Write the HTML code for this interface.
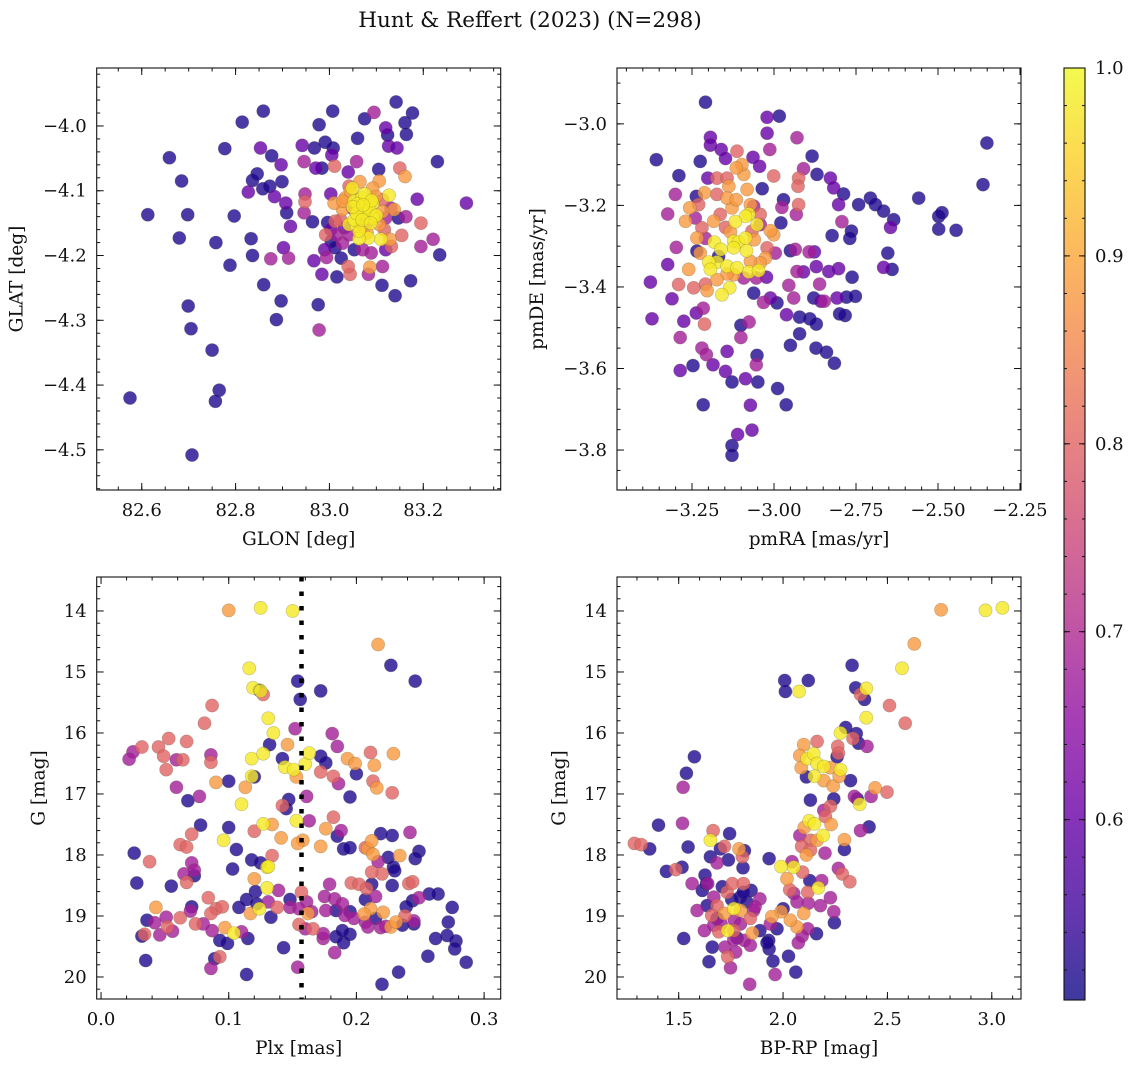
<!DOCTYPE html>
<html><head><meta charset="utf-8"><style>
html,body{margin:0;padding:0;background:#fff}
svg text{font-family:"DejaVu Serif","Liberation Serif",serif;fill:#111}
</style></head><body>
<svg id="fig" width="1136" height="1067" viewBox="0 0 1136 1067" xmlns="http://www.w3.org/2000/svg">
<text x="530" y="27" font-size="21.5" text-anchor="middle">Hunt &amp; Reffert (2023) (N=298)</text>
</svg>
<script>
// ---- Panel 1: GLON / GLAT ----
const tlX=[82.575,82.707,82.750,82.765,82.757,82.699,82.705,82.613,82.698,82.680,82.659,82.685,82.777,82.814,82.859,82.797,82.758,82.788,82.833,82.836,82.860,82.887,82.897,82.976,82.978,82.875,82.913,82.902,82.917,82.907,82.909,82.883,82.827,82.836,82.846,82.858,82.873,82.899,82.897,82.877,82.853,82.942,82.968,82.991,83.008,83.005,82.978,83.007,83.075,83.095,83.142,83.177,83.161,83.164,83.120,83.124,83.126,83.144,83.060,83.058,83.011,82.971,82.984,82.946,83.040,83.105,83.150,83.161,83.230,83.292,83.187,82.948,82.948,82.946,82.964,82.996,83.003,82.967,82.984,83.016,83.025,83.044,83.040,83.083,83.086,83.113,83.112,83.140,83.173,83.235,83.221,83.195,83.154,83.195,83.163,83.147,82.994,82.990,82.992,83.004,83.012,83.028,83.053,83.071,83.089,83.120,83.132,83.129,83.110,83.083,83.063,83.063,83.042,83.032,83.024,83.012,83.003,83.015,83.042,83.078,83.106,83.117,83.120,83.131,83.138,83.127,83.106,83.092,83.065,83.049,83.042,83.034,83.053,83.069,83.078,83.092,83.099,83.113,83.049,83.063,83.081,83.092,83.071,83.053,83.028,83.010,83.029,83.113,83.071,83.060,83.075,83.085,83.058,83.070,83.090,83.065,83.080,83.050,83.100,83.045,83.072,83.088];
const tlY=[-4.420,-4.508,-4.346,-4.408,-4.425,-4.278,-4.313,-4.137,-4.137,-4.173,-4.049,-4.085,-4.035,-3.994,-3.977,-4.139,-4.180,-4.215,-4.174,-4.200,-4.245,-4.299,-4.270,-4.276,-4.315,-4.205,-4.204,-4.188,-4.155,-4.119,-4.134,-4.109,-4.102,-4.084,-4.074,-4.097,-4.093,-4.086,-4.060,-4.046,-4.034,-4.030,-4.034,-4.025,-4.034,-4.045,-3.998,-3.977,-3.989,-3.979,-3.963,-3.980,-3.995,-4.013,-4.003,-4.014,-4.031,-4.034,-4.019,-4.055,-4.062,-4.065,-4.065,-4.055,-4.071,-4.067,-4.065,-4.078,-4.055,-4.119,-4.113,-4.105,-4.117,-4.134,-4.148,-4.149,-4.105,-4.208,-4.229,-4.233,-4.204,-4.229,-4.217,-4.229,-4.218,-4.217,-4.246,-4.262,-4.239,-4.199,-4.175,-4.186,-4.169,-4.150,-4.140,-4.142,-4.203,-4.191,-4.168,-4.178,-4.188,-4.181,-4.191,-4.191,-4.196,-4.191,-4.186,-4.175,-4.175,-4.173,-4.174,-4.162,-4.152,-4.157,-4.145,-4.147,-4.160,-4.168,-4.168,-4.152,-4.152,-4.160,-4.142,-4.127,-4.129,-4.107,-4.085,-4.096,-4.086,-4.096,-4.093,-4.111,-4.116,-4.111,-4.124,-4.119,-4.109,-4.114,-4.127,-4.132,-4.133,-4.142,-4.142,-4.145,-4.129,-4.119,-4.116,-4.132,-4.152,-4.120,-4.105,-4.130,-4.135,-4.145,-4.115,-4.158,-4.165,-4.125,-4.138,-4.100,-4.122,-4.150];
const tlP=[.52,.52,.52,.52,.52,.52,.52,.52,.52,.52,.52,.52,.52,.52,.52,.52,.52,.52,.52,.52,.52,.52,.52,.52,.68,.68,.68,.6,.6,.6,.52,.6,.6,.52,.52,.52,.52,.52,.6,.52,.6,.6,.52,.52,.52,.6,.52,.52,.52,.68,.52,.52,.52,.52,.6,.52,.6,.6,.52,.68,.8,.6,.52,.68,.6,.52,.8,.88,.52,.6,.6,.68,.8,.68,.52,.52,.6,.6,.6,.52,.52,.8,.8,.68,.88,.68,.52,.52,.52,.52,.68,.68,.8,.8,.68,.52,.68,.6,.8,.52,.52,.68,.52,.68,.68,.6,.8,.88,.98,.98,.98,.98,.98,.6,.8,.8,.6,.68,.68,.8,.88,.8,.68,.68,.88,.98,.88,.88,.88,.98,.8,.88,.98,.98,.98,.98,.88,.8,.68,.98,.98,.98,.98,.98,.88,.88,.88,.88,.68,.98,.98,.98,.98,.98,.98,.95,.9,.98,.98,.9,.98,.98,.98];

// ---- Panel 2: pmRA / pmDE ----
const trX=[-3.209,-3.359,-3.290,-3.194,-3.194,-3.161,-3.225,-3.202,-3.301,-3.324,-3.237,-3.298,-3.324,-3.377,-3.372,-3.311,-3.286,-3.286,-3.247,-3.275,-3.237,-3.216,-3.212,-3.220,-3.206,-3.186,-3.143,-3.148,-3.128,-3.101,-3.076,-3.101,-3.087,-3.052,-3.054,-3.049,-2.989,-2.963,-3.072,-3.216,-3.111,-3.067,-3.128,-3.128,-3.021,-2.984,-3.021,-2.930,-3.013,-2.884,-2.869,-2.910,-2.925,-2.927,-2.925,-2.976,-2.971,-2.932,-2.979,-3.036,-3.044,-3.064,-3.113,-3.148,-2.828,-2.818,-2.788,-2.803,-2.742,-2.706,-2.691,-2.666,-2.635,-2.645,-2.559,-2.498,-2.488,-2.498,-2.445,-2.351,-2.363,-2.793,-2.823,-2.764,-2.769,-2.653,-2.666,-2.640,-2.762,-2.803,-2.833,-2.871,-2.877,-2.893,-2.935,-2.950,-2.930,-2.910,-2.955,-2.940,-2.991,-3.032,-3.062,-3.011,-2.962,-2.922,-2.891,-2.871,-2.922,-2.950,-2.872,-2.840,-2.816,-2.879,-2.857,-2.847,-2.861,-2.808,-2.779,-2.752,-2.783,-2.800,-3.023,-3.054,-2.996,-3.001,-3.011,-3.052,-3.042,-3.062,-3.077,-3.087,-3.118,-3.133,-3.182,-3.123,-3.108,-3.087,-3.060,-3.084,-3.123,-3.162,-3.174,-3.199,-3.194,-3.143,-3.113,-3.077,-3.047,-3.026,-3.042,-3.092,-3.123,-3.143,-3.174,-3.204,-3.135,-3.159,-3.209,-3.291,-3.260,-3.235,-3.270,-3.257,-3.230,-3.212,-3.174,-3.138,-3.092,-3.098,-3.082,-3.128,-3.164,-3.184,-3.220,-3.240,-3.148,-3.209,-3.072,-3.067,-3.174,-3.143,-3.115,-3.143,-3.115,-3.072,-3.042,-3.021,-3.225,-3.169,-3.235,-3.245,-3.001,-2.988];
const trY=[-2.947,-3.088,-3.127,-3.033,-3.052,-3.063,-3.092,-3.133,-3.173,-3.221,-3.178,-3.303,-3.345,-3.388,-3.478,-3.429,-3.524,-3.605,-3.593,-3.484,-3.464,-3.452,-3.491,-3.550,-3.566,-3.591,-3.558,-3.607,-3.633,-3.494,-3.486,-3.524,-3.625,-3.568,-3.591,-3.633,-3.649,-3.689,-3.690,-3.689,-3.762,-3.751,-3.789,-3.813,-2.984,-2.981,-3.023,-3.034,-3.063,-3.079,-3.124,-3.110,-3.133,-3.153,-3.198,-3.205,-3.186,-3.222,-3.243,-3.159,-3.104,-3.082,-3.067,-3.085,-3.133,-3.157,-3.172,-3.198,-3.198,-3.182,-3.198,-3.214,-3.235,-3.254,-3.182,-3.227,-3.218,-3.258,-3.261,-3.047,-3.149,-3.240,-3.274,-3.263,-3.281,-3.317,-3.352,-3.357,-3.376,-3.355,-3.362,-3.350,-3.314,-3.314,-3.308,-3.311,-3.362,-3.363,-3.396,-3.427,-3.439,-3.438,-3.415,-3.427,-3.468,-3.474,-3.478,-3.491,-3.515,-3.543,-3.550,-3.560,-3.587,-3.427,-3.435,-3.435,-3.393,-3.427,-3.425,-3.423,-3.470,-3.466,-3.376,-3.378,-3.317,-3.272,-3.262,-3.247,-3.222,-3.202,-3.221,-3.227,-3.240,-3.265,-3.290,-3.288,-3.290,-3.280,-3.284,-3.311,-3.304,-3.308,-3.339,-3.339,-3.357,-3.349,-3.353,-3.363,-3.360,-3.329,-3.341,-3.378,-3.370,-3.368,-3.382,-3.409,-3.402,-3.419,-3.393,-3.394,-3.357,-3.280,-3.239,-3.206,-3.198,-3.169,-3.173,-3.153,-3.124,-3.100,-3.161,-3.206,-3.222,-3.239,-3.255,-3.231,-3.254,-3.281,-3.337,-3.263,-3.133,-3.133,-3.108,-3.182,-3.186,-3.198,-3.247,-3.304,-3.317,-3.325,-3.312,-3.402,-3.128,-3.128];
const trP=[.52,.52,.52,.6,.6,.6,.52,.6,.68,.68,.52,.68,.6,.6,.6,.6,.68,.6,.52,.6,.6,.68,.8,.68,.68,.6,.6,.6,.52,.52,.68,.68,.6,.52,.68,.52,.52,.52,.6,.52,.6,.6,.52,.52,.6,.52,.6,.68,.68,.52,.52,.68,.8,.8,.8,.68,.52,.68,.52,.52,.6,.6,.8,.6,.6,.6,.52,.6,.52,.52,.52,.52,.52,.6,.52,.52,.52,.52,.52,.52,.52,.68,.52,.52,.52,.52,.6,.52,.52,.6,.6,.6,.6,.68,.68,.52,.68,.6,.68,.68,.52,.68,.52,.6,.6,.52,.52,.52,.52,.52,.52,.52,.52,.52,.6,.68,.68,.6,.52,.52,.52,.52,.6,.68,.68,.88,.88,.98,.8,.68,.98,.98,.98,.88,.98,.98,.98,.98,.88,.98,.98,.98,.98,.98,.98,.98,.98,.98,.98,.88,.88,.68,.88,.88,.88,.88,.98,.98,.8,.8,.88,.88,.88,.88,.8,.88,.8,.88,.88,.88,.88,.88,.8,.88,.8,.68,.8,.68,.88,.8,.8,.8,.88,.88,.88,.88,.68,.8,.88,.52,.52,.8,.8];

// ---- Panel 3: Plx / G ----
const blX=[0.100,0.125,0.150,0.217,0.227,0.246,0.116,0.119,0.124,0.127,0.125,0.154,0.172,0.156,0.087,0.081,0.131,0.135,0.152,0.181,0.185,0.032,0.053,0.067,0.045,0.025,0.022,0.049,0.059,0.064,0.086,0.086,0.051,0.059,0.068,0.077,0.090,0.100,0.113,0.120,0.118,0.118,0.127,0.132,0.146,0.142,0.144,0.151,0.153,0.160,0.163,0.172,0.176,0.172,0.182,0.186,0.193,0.199,0.200,0.211,0.214,0.229,0.213,0.216,0.228,0.195,0.161,0.147,0.142,0.145,0.110,0.078,0.100,0.071,0.062,0.067,0.026,0.038,0.106,0.096,0.120,0.127,0.134,0.141,0.153,0.163,0.158,0.154,0.176,0.182,0.188,0.185,0.172,0.190,0.195,0.207,0.209,0.212,0.213,0.219,0.228,0.242,0.234,0.225,0.217,0.249,0.246,0.134,0.118,0.125,0.130,0.131,0.103,0.071,0.073,0.065,0.073,0.067,0.055,0.028,0.120,0.121,0.130,0.139,0.157,0.179,0.196,0.202,0.212,0.208,0.220,0.212,0.229,0.230,0.228,0.241,0.244,0.257,0.264,0.249,0.244,0.084,0.114,0.148,0.161,0.175,0.183,0.189,0.207,0.215,0.211,0.206,0.221,0.239,0.238,0.275,0.043,0.071,0.070,0.090,0.095,0.108,0.117,0.124,0.122,0.131,0.138,0.148,0.155,0.162,0.165,0.176,0.184,0.191,0.195,0.198,0.207,0.209,0.215,0.219,0.223,0.227,0.231,0.236,0.245,0.245,0.272,0.271,0.262,0.278,0.277,0.256,0.286,0.233,0.220,0.183,0.174,0.184,0.190,0.195,0.189,0.174,0.166,0.160,0.155,0.154,0.143,0.133,0.115,0.110,0.104,0.097,0.099,0.093,0.087,0.080,0.086,0.074,0.062,0.056,0.051,0.052,0.046,0.042,0.036,0.034,0.032,0.035,0.089,0.093,0.086,0.114];
const blY=[13.99,13.95,14.00,14.55,14.89,15.15,14.94,15.26,15.30,15.37,15.31,15.15,15.31,15.45,15.55,15.84,15.76,16.00,15.93,16.01,16.22,16.23,16.09,16.14,16.23,16.31,16.43,16.38,16.44,16.44,16.36,16.48,16.60,16.89,17.11,17.04,16.81,16.79,16.89,16.72,16.71,16.42,16.34,16.19,16.19,16.42,16.56,16.60,16.72,16.51,16.33,16.38,16.49,16.64,16.71,16.83,16.42,16.50,16.67,16.32,16.53,16.34,16.79,16.90,16.98,17.05,17.04,17.09,17.19,17.24,17.17,17.51,17.55,17.66,17.83,17.87,17.97,18.11,17.91,17.76,17.61,17.49,17.50,17.72,17.44,17.44,17.76,17.81,17.57,17.38,17.60,17.69,17.86,17.90,17.88,17.88,17.90,17.77,17.99,17.65,17.68,17.63,18.01,18.04,18.11,17.94,18.06,18.01,18.08,18.13,18.20,18.19,18.23,18.13,18.25,18.31,18.34,18.45,18.51,18.46,18.39,18.60,18.54,18.58,18.61,18.48,18.46,18.48,18.48,18.55,18.31,18.28,18.20,18.26,18.50,18.47,18.44,18.64,18.64,18.70,18.75,18.70,18.73,18.73,18.77,18.68,18.72,18.80,18.73,18.68,18.88,18.97,18.94,18.85,19.00,18.86,18.86,18.85,18.92,18.88,18.85,18.86,18.96,18.88,18.80,18.77,18.86,18.86,18.88,18.96,18.93,18.91,18.91,18.99,18.93,19.04,19.10,19.18,19.04,19.19,19.17,19.18,19.10,19.15,19.08,19.13,19.10,19.32,19.37,19.41,19.54,19.66,19.76,19.92,20.12,19.60,19.37,19.34,19.44,19.30,19.24,19.29,19.21,19.21,19.14,19.84,19.52,19.02,19.37,19.26,19.28,19.19,19.45,19.40,19.24,19.13,18.96,19.13,19.03,19.25,19.02,19.18,19.31,19.11,19.07,19.30,19.33,19.73,19.70,19.67,19.86,19.96];
const blP=[.88,.98,.98,.88,.52,.52,.98,.98,.52,.8,.98,.52,.52,.52,.8,.8,.98,.98,.68,.68,.68,.8,.8,.8,.8,.68,.68,.8,.68,.8,.68,.8,.8,.68,.52,.68,.88,.52,.88,.52,.98,.98,.98,.52,.88,.52,.98,.98,.88,.98,.98,.52,.52,.8,.8,.68,.88,.88,.52,.8,.88,.88,.8,.88,.8,.52,.68,.52,.8,.52,.98,.52,.52,.8,.8,.8,.52,.8,.52,.98,.8,.98,.88,.88,.98,.68,.88,.88,.88,.8,.68,.52,.88,.52,.52,.8,.88,.88,.88,.52,.52,.68,.88,.52,.68,.52,.52,.8,.52,.52,.98,.98,.52,.68,.68,.68,.52,.8,.52,.52,.88,.52,.98,.68,.8,.68,.8,.8,.52,.8,.8,.8,.52,.52,.52,.8,.8,.52,.52,.68,.52,.8,.52,.52,.68,.68,.68,.68,.52,.68,.88,.88,.88,.52,.8,.52,.88,.52,.68,.8,.8,.52,.88,.98,.52,.68,.8,.68,.68,.88,.68,.68,.52,.68,.52,.68,.68,.68,.52,.68,.68,.88,.88,.52,.68,.52,.52,.52,.52,.52,.52,.52,.52,.52,.52,.68,.68,.52,.52,.52,.52,.68,.8,.68,.8,.68,.52,.52,.52,.68,.98,.88,.52,.52,.68,.68,.8,.8,.8,.68,.68,.8,.68,.68,.52,.8,.52,.52,.52,.8,.68,.52,.68];

// ---- Panel 4: BP-RP / G ----
const brX=[2.757,2.970,3.051,2.629,2.570,2.331,2.008,2.121,2.011,2.077,2.348,2.371,2.390,2.399,2.510,2.585,2.399,2.300,2.275,2.351,2.335,2.362,2.402,2.163,2.099,2.262,2.265,2.259,2.080,2.115,2.147,2.163,2.195,2.227,2.275,2.087,2.150,2.112,2.195,2.240,2.269,2.323,1.575,1.537,1.521,2.131,2.243,2.227,2.342,2.355,2.367,2.422,2.441,2.498,2.125,2.150,2.195,2.230,2.203,2.102,2.080,2.192,2.163,2.131,2.089,2.201,2.112,2.131,2.294,2.294,2.371,2.412,1.403,1.518,1.545,1.288,1.320,1.361,1.652,1.665,1.744,1.719,1.700,1.789,1.815,1.805,1.652,1.738,1.684,1.808,1.441,1.486,1.516,1.564,1.626,1.639,1.933,1.990,2.051,2.043,2.019,2.093,2.128,2.185,2.169,2.265,2.284,2.320,2.032,2.051,2.118,2.067,2.121,2.179,2.227,2.243,2.246,2.160,2.099,2.067,2.118,2.091,2.035,2.000,1.990,1.946,1.971,1.931,1.933,1.952,2.026,2.061,1.962,1.840,2.073,1.613,1.588,1.524,1.623,1.661,1.645,1.722,1.735,1.748,1.773,1.633,1.668,1.684,1.658,1.668,1.709,1.732,1.757,1.810,1.847,1.889,1.719,1.764,1.796,1.754,1.795,1.827,1.859,1.843,1.767,1.796,1.735,1.764,1.853,1.889,1.692,1.703,1.815,1.843,1.780,1.764,1.923,1.684,1.636,1.810,1.866,1.939,2.003];
const brY=[13.98,13.99,13.95,14.54,14.94,14.89,15.14,15.14,15.32,15.32,15.26,15.37,15.45,15.27,15.55,15.84,15.75,15.91,16.00,16.01,16.09,16.17,16.22,16.14,16.19,16.22,16.33,16.39,16.37,16.42,16.34,16.50,16.55,16.57,16.60,16.57,16.71,16.72,16.78,16.87,16.71,16.78,16.39,16.66,16.89,17.10,17.08,17.20,17.04,17.08,17.17,17.04,16.90,16.97,17.44,17.49,17.27,17.50,17.37,17.55,17.68,17.68,17.76,17.76,17.86,17.97,18.00,17.92,17.75,17.91,17.60,17.54,17.51,17.48,17.87,17.81,17.83,17.90,17.76,17.60,17.65,17.86,17.90,17.90,17.93,18.03,18.03,18.08,18.13,18.21,18.27,18.24,18.20,18.47,18.33,18.47,18.06,18.19,18.20,18.11,18.39,18.28,18.42,18.42,18.54,18.22,18.31,18.44,18.57,18.63,18.61,18.77,18.79,18.83,18.70,18.93,19.11,19.29,18.96,19.18,19.21,19.33,19.07,18.88,18.93,19.01,19.21,19.40,19.54,19.74,19.66,19.92,19.96,20.12,19.44,18.58,18.91,19.37,19.24,19.51,19.75,19.51,19.67,19.85,19.59,18.47,18.69,18.83,18.99,19.15,18.52,18.61,18.47,18.47,18.58,18.72,18.96,18.88,18.91,18.73,18.69,18.77,18.91,19.04,19.07,19.13,19.24,19.24,19.28,19.24,19.26,19.13,19.40,19.48,19.36,19.39,19.44,19.04,18.83,18.61,18.85,19.13,19.17];
const brP=[.88,.98,.98,.88,.98,.52,.52,.52,.52,.98,.52,.8,.52,.98,.8,.8,.98,.52,.98,.52,.8,.52,.68,.8,.88,.8,.8,.52,.88,.98,.98,.98,.98,.88,.98,.88,.98,.52,.88,.88,.88,.52,.52,.52,.68,.52,.52,.8,.68,.52,.98,.68,.88,.8,.98,.98,.68,.88,.8,.88,.68,.98,.88,.8,.8,.68,.88,.8,.88,.52,.68,.52,.52,.68,.52,.8,.8,.52,.98,.8,.52,.8,.52,.88,.52,.8,.52,.52,.68,.52,.52,.8,.52,.68,.52,.68,.52,.98,.98,.68,.88,.8,.52,.68,.98,.68,.8,.8,.8,.68,.8,.68,.68,.68,.68,.68,.52,.52,.88,.88,.68,.68,.88,.52,.88,.88,.52,.52,.52,.52,.52,.52,.68,.68,.68,.52,.68,.52,.68,.52,.52,.68,.8,.68,.68,.52,.68,.8,.8,.68,.52,.8,.8,.8,.52,.68,.88,.98,.88,.52,.52,.52,.68,.8,.68,.68,.98,.8,.88,.52,.8,.68,.68,.68,.52,.68,.52,.52,.52,.52,.68,.68];

// ---- Colorbar ticks ----
const cbTicks=[0.6,0.7,0.8,0.9,1.0];
const cbLabels=["0.6","0.7","0.8","0.9","1.0"];
const plxCut=[0.157];

const NS="http://www.w3.org/2000/svg";
const svg=document.getElementById('fig');
function mk(tag,attrs,parent){const e=document.createElementNS(NS,tag);for(const k in attrs)e.setAttribute(k,attrs[k]);(parent||svg).appendChild(e);return e;}
const plasma=[[13,8,135],[65,4,157],[106,0,168],[143,13,164],[177,42,144],[204,71,120],[225,100,98],[242,132,75],[252,166,54],[252,206,37],[240,249,33]];
function cmap(t){t=Math.max(0,Math.min(1,t));const f=t*10,i=Math.min(9,Math.floor(f)),r=f-i;const a=plasma[i],b=plasma[i+1];return 'rgb('+[0,1,2].map(k=>Math.round(a[k]+(b[k]-a[k])*r)).join(',')+')';}
const VMIN=0.504,VMAX=1.0;
function lin(d0,d1,r0,r1){return v=>r0+(v-d0)/(d1-d0)*(r1-r0);}
function fmt(v,dec){let s=v.toFixed(dec);return s.replace('-','\u2212');}

const panels=[
 {id:'glon-glat',box:[96.7,68,500.7,490],xd:[82.504,83.365],yd:[-3.9105,-4.562],xmaj:[82.6,82.8,83.0,83.2],xmin:0.05,xdec:1,ymaj:[-4.0,-4.1,-4.2,-4.3,-4.4,-4.5],ymin:0.02,ydec:1,xl:'GLON [deg]',yl:'GLAT [deg]',X:tlX,Y:tlY,P:tlP},
 {id:'pmra-pmde',box:[617,68,1021,490],xd:[-3.4787,-2.247],yd:[-2.863,-3.898],xmaj:[-3.25,-3.0,-2.75,-2.5,-2.25],xmin:0.05,xdec:2,ymaj:[-3.0,-3.2,-3.4,-3.6,-3.8],ymin:0.05,ydec:1,xl:'pmRA [mas/yr]',yl:'pmDE [mas/yr]',X:trX,Y:trY,P:trP},
 {id:'plx-g',box:[96.7,577,500.7,999],xd:[-0.0034,0.313],yd:[13.443,20.361],xmaj:[0.0,0.1,0.2,0.3],xmin:0.02,xdec:1,ymaj:[14,15,16,17,18,19,20],ymin:0.2,ydec:0,xl:'Plx [mas]',yl:'G [mag]',X:blX,Y:blY,P:blP,cut:true},
 {id:'bprp-g',box:[617,577,1021,999],xd:[1.2044,3.140],yd:[13.443,20.361],xmaj:[1.5,2.0,2.5,3.0],xmin:0.1,xdec:1,ymaj:[14,15,16,17,18,19,20],ymin:0.2,ydec:0,xl:'BP-RP [mag]',yl:'G [mag]',X:brX,Y:brY,P:brP}
];

panels.forEach(p=>{
 const [x0,y0,x1,y1]=p.box;
 const sx=lin(p.xd[0],p.xd[1],x0,x1), sy=lin(p.yd[0],p.yd[1],y0,y1);
 const g=mk('g',{});
 
 
 const clipId='clip-'+p.id;
 const cp=mk('clipPath',{id:clipId},g);mk('rect',{x:x0,y:y0,width:x1-x0,height:y1-y0},cp);
 const pts=mk('g',{'clip-path':'url(#'+clipId+')'},g);
 
 
 const order=p.P.map((v,i)=>i).sort((a,b)=>p.P[a]-p.P[b]);
 order.forEach(i=>{
  const c=mk('circle',{cx:sx(p.X[i]).toFixed(1),cy:sy(p.Y[i]).toFixed(1),r:6.6,fill:cmap((p.P[i]-VMIN)/(VMAX-VMIN)),'fill-opacity':0.8,stroke:'rgba(90,90,60,0.35)','stroke-width':0.6},pts);
  
  
 });
 if(p.cut){
  const l=mk('line',{x1:sx(plxCut[0]),x2:sx(plxCut[0]),y1:y0,y2:y1,stroke:'#000','stroke-width':4.5,'stroke-dasharray':'4.5 10'},g);
  
  
 }
 const fr=mk('rect',{x:x0,y:y0,width:x1-x0,height:y1-y0,fill:'none',stroke:'#111','stroke-width':1.1},g);
 
 
 const tk=mk('g',{stroke:'#111','stroke-width':1},g);
 const xs=Math.min(p.xd[0],p.xd[1]),xe=Math.max(p.xd[0],p.xd[1]);
 for(let v=Math.ceil(xs/p.xmin-1e-6)*p.xmin;v<=xe;v+=p.xmin){const X=sx(v);mk('line',{x1:X,x2:X,y1:y1,y2:y1-3.5},tk);mk('line',{x1:X,x2:X,y1:y0,y2:y0+3.5},tk);}
 const ys=Math.min(p.yd[0],p.yd[1]),ye=Math.max(p.yd[0],p.yd[1]);
 for(let v=Math.ceil(ys/p.ymin-1e-6)*p.ymin;v<=ye;v+=p.ymin){const Y=sy(v);mk('line',{x1:x0,x2:x0+3.5,y1:Y,y2:Y},tk);mk('line',{x1:x1,x2:x1-3.5,y1:Y,y2:Y},tk);}
 p.xmaj.forEach(v=>{const X=sx(v);mk('line',{x1:X,x2:X,y1:y1,y2:y1-7},tk);mk('line',{x1:X,x2:X,y1:y0,y2:y0+7},tk);
  const t=mk('text',{x:X,y:y1+26,'font-size':18,'text-anchor':'middle'},g);t.textContent=fmt(v,p.xdec);
  
  });
 p.ymaj.forEach(v=>{const Y=sy(v);mk('line',{x1:x0,x2:x0+7,y1:Y,y2:Y},tk);mk('line',{x1:x1,x2:x1-7,y1:Y,y2:Y},tk);
  const t=mk('text',{x:x0-10,y:Y+6,'font-size':18,'text-anchor':'end'},g);t.textContent=fmt(v,p.ydec);
  
  });
 const xl=mk('text',{x:(x0+x1)/2,y:y1+55,'font-size':18.5,'text-anchor':'middle'},g);xl.textContent=p.xl;
 
 
 const ylx=x0-(p.ydec===0?52:74), ylc=(y0+y1)/2;
 const yl=mk('text',{x:ylx,y:ylc,'font-size':18.5,'text-anchor':'middle',transform:'rotate(-90 '+ylx+' '+ylc+')'},g);yl.textContent=p.yl;
 
 
});

// colorbar
(function(){
 const x0=1064,x1=1085,y0=68,y1=1000;
 const cg=mk('g',{});
 
 
 const defs=mk('defs',{},cg);
 const lg=mk('linearGradient',{id:'cbgrad',x1:0,y1:1,x2:0,y2:0},defs);
 for(let i=0;i<=20;i++){mk('stop',{offset:(i/20),'stop-color':cmap(i/20),'stop-opacity':0.8},lg);}
 mk('rect',{x:x0,y:y0,width:x1-x0,height:y1-y0,fill:'url(#cbgrad)'},cg);
 mk('rect',{x:x0,y:y0,width:x1-x0,height:y1-y0,fill:'none',stroke:'#111','stroke-width':1.1},cg);
 const sy=lin(VMIN,VMAX,y1,y0);
 for(let v=0.52;v<=1.0001;v+=0.02){const Y=sy(v);mk('line',{x1:x0,x2:x0+3,y1:Y,y2:Y,stroke:'#111'},cg);mk('line',{x1:x1,x2:x1-3,y1:Y,y2:Y,stroke:'#111'},cg);}
 cbTicks.forEach((v,i)=>{const Y=sy(v);mk('line',{x1:x0,x2:x0+6,y1:Y,y2:Y,stroke:'#111'},cg);mk('line',{x1:x1,x2:x1-6,y1:Y,y2:Y,stroke:'#111'},cg);
  const t=mk('text',{x:x1+10,y:Y+6,'font-size':18},cg);t.textContent=cbLabels[i];
  
  });
})();
</script>
</body></html>
